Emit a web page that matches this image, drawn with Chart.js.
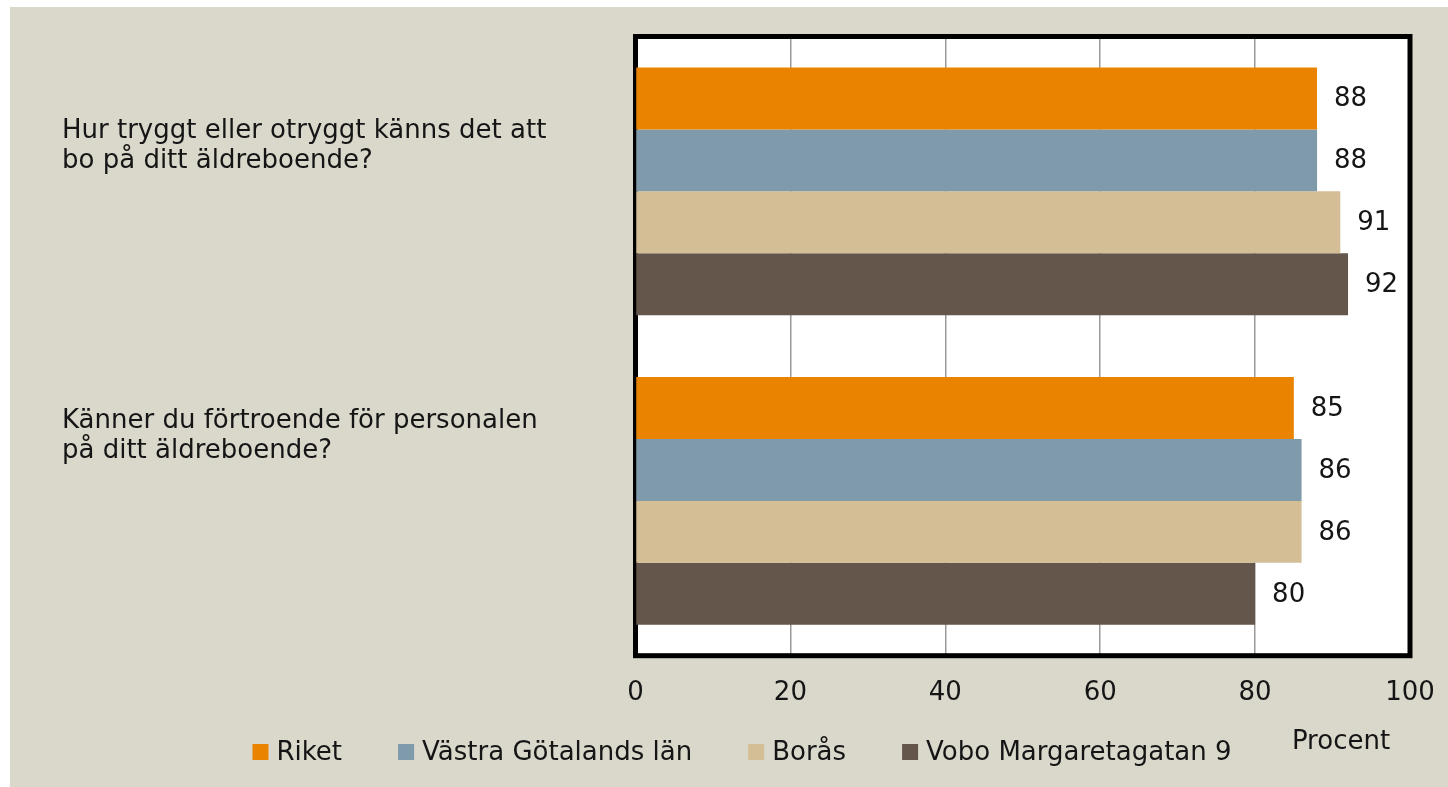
<!DOCTYPE html>
<html>
<head>
<meta charset="utf-8">
<script src="https://cdn.jsdelivr.net/npm/chart.js@4.4.1/dist/chart.umd.min.js"></script>
<style>
  html, body { margin: 0; padding: 0; background: #ffffff; width: 1448px; height: 787px; overflow: hidden; }
  #wrap { position: absolute; left: 10px; top: 7px; width: 1438px; height: 780px; background: #DAD7CB; }
  canvas { display: block; }
</style>
</head>
<body>
<div id="wrap"><canvas id="c"></canvas></div>
<script>
// ---- data ----
const categories = [
  ["Hur tryggt eller otryggt känns det att", "bo på ditt äldreboende?"],
  ["Känner du förtroende för personalen", "på ditt äldreboende?"]
];
const seriesNames = ["Riket", "Västra Götalands län", "Borås", "Vobo Margaretagatan 9"];
const riket = [88, 85];
const vastraGotaland = [88, 86];
const boras = [91, 86];
const vobo = [92, 80];
const xTicks = [0, 20, 40, 60, 80, 100];
const axisTitle = "Procent";

// ---- styles ----
const colors = ["#E98300", "#7F9AAB", "#D4BE95", "#64564A"];
const FONT = "'DejaVu Sans', sans-serif";
const FSIZE = 26;
const TEXT = "#151515";

const seriesValues = [riket, vastraGotaland, boras, vobo];

const framePlugin = {
  id: 'frame',
  beforeDraw(chart) {
    const {ctx, chartArea: a} = chart;
    ctx.save();
    ctx.fillStyle = '#ffffff';
    ctx.fillRect(a.left, a.top, a.right - a.left, a.bottom - a.top);
    ctx.restore();
  },
  beforeDatasetsDraw(chart) {
    const {ctx, chartArea: a} = chart;
    ctx.save();
    ctx.strokeStyle = '#000000';
    ctx.lineWidth = 5;
    ctx.strokeRect(a.left, a.top, a.right - a.left, a.bottom - a.top);
    ctx.restore();
  },
  afterDatasetsDraw(chart) {
    const {ctx} = chart;
    ctx.save();
    ctx.font = FSIZE + "px " + FONT;
    ctx.fillStyle = TEXT;
    ctx.textAlign = 'left';
    ctx.textBaseline = 'middle';
    chart.data.datasets.forEach((ds, di) => {
      const meta = chart.getDatasetMeta(di);
      meta.data.forEach((bar, i) => {
        ctx.fillText(String(ds.data[i]), bar.x + 17, bar.y + 1);
      });
    });
    ctx.restore();
  },
  afterDraw(chart) {
    const {ctx, chartArea: a} = chart;
    const yScale = chart.scales.y;
    ctx.save();
    ctx.font = FSIZE + "px " + FONT;
    ctx.fillStyle = TEXT;
    // category labels
    ctx.textAlign = 'left';
    ctx.textBaseline = 'middle';
    const catOffsets = [-60, -80];
    categories.forEach((lines, i) => {
      const cy = yScale.getPixelForValue(i);
      lines.forEach((ln, k) => {
        ctx.fillText(ln, 52, cy + catOffsets[i] + k * 30);
      });
    });
    // axis title
    ctx.textAlign = 'center';
    ctx.fillText(axisTitle, a.right - 69, a.bottom + 87);
    // legend
    const box = 16, gapText = 8, gapItem = 56;
    const widths = chart.data.datasets.map(ds => box + gapText + ctx.measureText(ds.label).width);
    const total = widths.reduce((s, w) => s + w, 0) + gapItem * (widths.length - 1);
    let x = 732 - total / 2;
    const ly = 745;
    chart.data.datasets.forEach((ds, i) => {
      ctx.fillStyle = ds.backgroundColor;
      ctx.fillRect(x, ly - box / 2, box, box);
      ctx.fillStyle = TEXT;
      ctx.textAlign = 'left';
      ctx.fillText(ds.label, x + box + gapText, ly + 1);
      x += widths[i] + gapItem;
    });
    ctx.restore();
  }
};

new Chart(document.getElementById('c'), {
  type: 'bar',
  data: {
    labels: categories,
    datasets: seriesNames.map((name, i) => ({
      label: name,
      data: seriesValues[i],
      backgroundColor: colors[i],
      borderWidth: 0,
      categoryPercentage: 0.8,
      barPercentage: 1.0
    }))
  },
  options: {
    indexAxis: 'y',
    responsive: true,
    maintainAspectRatio: false,
    animation: false,
    layout: { padding: { left: 0, top: 29.5, right: 0, bottom: 0 } },
    plugins: {
      legend: { display: false },
      tooltip: { enabled: false }
    },
    scales: {
      x: {
        type: 'linear',
        min: 0,
        max: 100,
        afterBuildTicks(scale) { scale.ticks = xTicks.map(v => ({ value: v })); },
        afterFit(scale) { scale.height = 131.3; scale.paddingRight = 38; scale.paddingLeft = 0; },
        ticks: {
          maxRotation: 0,
          padding: 22,
          color: TEXT,
          font: { family: FONT, size: FSIZE }
        },
        grid: {
          color: (c) => (c.tick && (c.tick.value === 0 || c.tick.value === 100)) ? 'rgba(0,0,0,0)' : '#9A9A9A',
          lineWidth: 1.5,
          drawTicks: false
        },
        border: { display: false }
      },
      y: {
        type: 'category',
        afterFit(scale) { scale.width = 625.5; },
        ticks: { display: false },
        grid: { display: false, drawTicks: false },
        border: { display: false }
      }
    }
  },
  plugins: [framePlugin]
});
</script>
</body>
</html>
